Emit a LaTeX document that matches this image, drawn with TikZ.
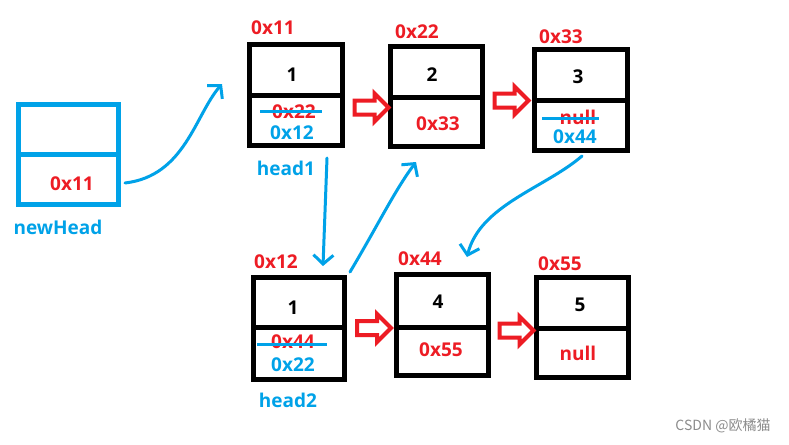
\documentclass[tikz,border=0pt]{standalone}
\usepackage{fontspec}
\setmainfont{Open Sans}
\newfontfamily\cjk{Noto Sans CJK SC}
\usetikzlibrary{shapes.arrows,arrows.meta}
\definecolor{pred}{RGB}{237,28,36}
\definecolor{pblue}{RGB}{0,162,232}
\tikzset{
  cell/.style={draw=black, line width=5pt, inner sep=0pt},
  bcell/.style={draw=pblue, line width=5pt, inner sep=0pt},
  txt/.style={font=\fontsize{19}{22}\selectfont\bfseries, inner sep=0pt},
  rtxt/.style={txt, text=pred},
  btxt/.style={txt, text=pblue},
  ktxt/.style={txt, text=black},
  blockarrow/.style={single arrow, draw=pred, line width=4pt, fill=white,
    minimum height=34pt, inner xsep=0pt, inner ysep=5pt,
    single arrow head extend=7pt, single arrow head indent=0pt},
  link/.style={draw=pblue, line width=3pt, line cap=round, line join=round,
    -{Straight Barb[length=9pt,width=20pt,line width=3pt]}},
  strike/.style={draw=pblue, line width=3pt}
}
\begin{document}
\begin{tikzpicture}[x=1pt,y=-1pt]
\useasboundingbox[fill=white] (0,0) rectangle (789,444);
% newHead
\node[bcell, minimum width=99.5, minimum height=49.5] (nhT) at (68.25,129.25) {};
\node[bcell, minimum width=99.5, minimum height=50.5] (nhB) at (68.25,179.25) {};
\node[rtxt] (nhv) at (72,184) {0x11};
\node[btxt] (nhl) at (58,227) {newHead};
% node 1 (0x11)
\node[cell, minimum width=93, minimum height=50.5] (n1T) at (296,69.75) {};
\node[cell, minimum width=93, minimum height=50.5] (n1B) at (296,120.25) {};
\node[rtxt] (n1a) at (273,28) {0x11};
\node[ktxt] (n1d) at (292,75) {1};
\node[rtxt] (n1o) at (294,112) {0x22};
\node[btxt] (n1n) at (292,133) {0x12};
\node[btxt] (n1l) at (286,168) {head1};
\coordinate (s1a) at (260,111); \coordinate (s1b) at (322,111);
\draw[strike] (s1a) -- (s1b);
% node 2 (0x22)
\node[cell, minimum width=92, minimum height=50.5] (n2T) at (436.5,71.75) {};
\node[cell, minimum width=92, minimum height=49.5] (n2B) at (436.5,121.75) {};
\node[rtxt] (n2a) at (417,32) {0x22};
\node[ktxt] (n2d) at (432,75) {2};
\node[rtxt] (n2n) at (438,124) {0x33};
% node 3 (0x33)
\node[cell, minimum width=93, minimum height=50.5] (n3T) at (581,74.75) {};
\node[cell, minimum width=93, minimum height=50.5] (n3B) at (581,125.25) {};
\node[rtxt] (n3a) at (561,37) {0x33};
\node[ktxt] (n3d) at (578,77) {3};
\node[rtxt] (n3o) at (578,117) {null};
\node[btxt] (n3n) at (575,137) {0x44};
\coordinate (s3a) at (542,118); \coordinate (s3b) at (599,118);
\draw[strike] (s3a) -- (s3b);
% node 4 (0x12)
\node[cell, minimum width=91, minimum height=49.5] (n4T) at (299,302.25) {};
\node[cell, minimum width=91, minimum height=52.5] (n4B) at (299,353.25) {};
\node[rtxt] (n4a) at (276,262) {0x12};
\node[ktxt] (n4d) at (293,308) {1};
\node[rtxt] (n4o) at (293,342) {0x44};
\node[btxt] (n4n) at (293,365) {0x22};
\node[btxt] (n4l) at (288,400) {head2};
\coordinate (s4a) at (257,344); \coordinate (s4b) at (327,344);
\draw[strike] (s4a) -- (s4b);
% node 5 (0x44)
\node[cell, minimum width=92, minimum height=52.5] (n5T) at (442.5,300.75) {};
\node[cell, minimum width=92, minimum height=48.5] (n5B) at (442.5,351.25) {};
\node[rtxt] (n5a) at (420,259) {0x44};
\node[ktxt] (n5d) at (438,302) {4};
\node[rtxt] (n5n) at (441,350) {0x55};
% node 6 (0x55)
\node[cell, minimum width=92, minimum height=50.5] (n6T) at (582.5,302.75) {};
\node[cell, minimum width=92, minimum height=49.5] (n6B) at (582.5,352.75) {};
\node[rtxt] (n6a) at (560,264) {0x55};
\node[ktxt] (n6d) at (580,305) {5};
\node[rtxt] (n6n) at (578,353) {null};
% red block arrows
\node[blockarrow] (a1) at (368,107.5) {};
\node[blockarrow] (a2) at (508,100.5) {};
\node[blockarrow] (a3) at (370.5,328) {};
\node[blockarrow] (a4) at (513,330.5) {};
% blue links
\coordinate (c1s) at (125,183); \coordinate (c1e) at (222,84);
\draw[link] (c1s) .. controls (185,176) and (195,115) .. (c1e);
\coordinate (c2s) at (327,158); \coordinate (c2e) at (323,266);
\draw[link] (c2s) -- (c2e);
\coordinate (c3s) at (350,272); \coordinate (c3e) at (416,162);
\draw[link] (c3s) .. controls (378,225) and (395,190) .. (c3e);
\coordinate (c4s) at (582,156); \coordinate (c4e) at (467,257);
\draw[link] (c4s) .. controls (545,188) and (480,205) .. (c4e);
% watermark
\node[text=black!45, font=\cjk\fontsize{14}{16}\selectfont, inner sep=0pt] (wm) at (723,426) {CSDN @欧橘猫};
\end{tikzpicture}
\end{document}
